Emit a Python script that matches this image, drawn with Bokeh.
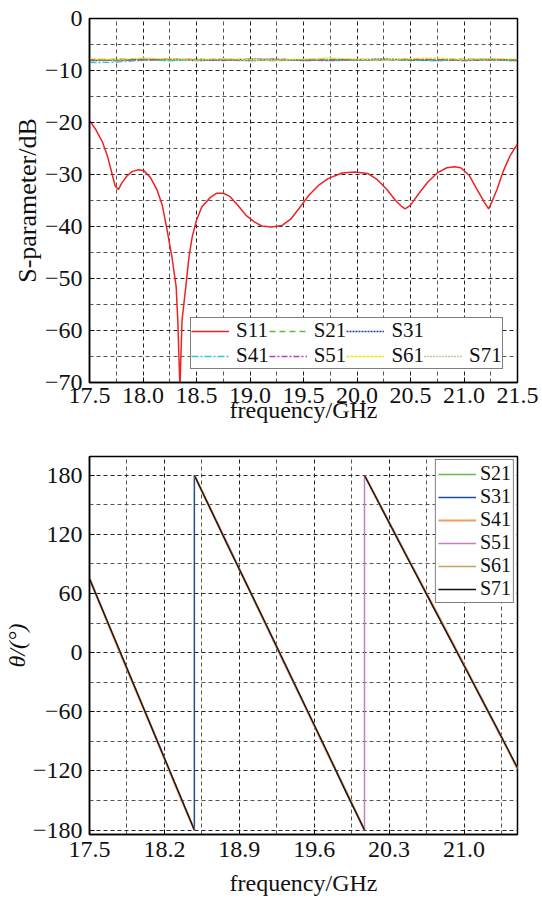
from bokeh.plotting import figure
from bokeh.layouts import column
from bokeh.models import (FixedTicker, CustomJSTickFormatter, Legend, LegendItem, Range1d)
from bokeh.embed import file_html
from bokeh.resources import INLINE

nan = float("nan")

# ---------------- data: top chart (magnitude) ----------------
f_s11 = [17.50, 17.56, 17.62, 17.67, 17.71, 17.74, 17.77, 17.80, 17.85, 17.90, 17.96,
         18.01, 18.07, 18.13, 18.18, 18.22, 18.27, 18.31, 18.325, 18.345, 18.365,
         18.40, 18.43, 18.46, 18.50, 18.55, 18.63, 18.69, 18.75, 18.81, 18.89, 18.96,
         19.04, 19.11, 19.20, 19.30, 19.38, 19.46, 19.55, 19.64, 19.73, 19.86, 19.98,
         20.10, 20.19, 20.28, 20.36, 20.42, 20.45, 20.50, 20.58, 20.66, 20.75, 20.84,
         20.91, 20.97, 21.05, 21.12, 21.19, 21.23, 21.26, 21.31, 21.37, 21.43, 21.50]
s11 = [-19.6, -21.4, -23.7, -26.6, -29.8, -32.2, -32.9, -31.7, -30.3, -29.4, -29.1,
       -29.3, -30.6, -32.9, -35.9, -40.1, -45.8, -51.6, -58.0, -71.0, -58.0,
       -51.6, -45.8, -42.0, -38.8, -36.2, -34.4, -33.6, -33.6, -34.2, -36.0, -37.8,
       -39.1, -39.9, -40.1, -39.8, -38.6, -36.5, -34.0, -32.1, -30.8, -29.7, -29.5,
       -29.8, -31.0, -32.9, -35.0, -36.2, -36.6, -35.9, -33.6, -31.5, -29.7, -28.7,
       -28.5, -28.7, -30.2, -32.8, -35.3, -36.6, -35.3, -32.8, -29.2, -26.4, -24.1]

f_trans = [17.50, 17.75, 18.00, 18.25, 18.50, 18.75, 19.00, 19.25, 19.50,
           19.75, 20.00, 20.25, 20.50, 20.75, 21.00, 21.25, 21.50]
s21 = [-8.0, -7.8, -7.9, -8.1, -7.9, -7.8, -8.0, -8.1, -7.9, -7.8, -8.0, -7.9, -8.1, -7.9, -7.8, -8.0, -8.1]
s31 = [-8.1, -8.0, -7.8, -7.9, -8.1, -8.0, -7.8, -7.9, -8.1, -8.0, -7.9, -7.8, -8.0, -8.1, -7.9, -7.8, -8.0]
s41 = [-8.5, -8.4, -8.0, -8.1, -8.0, -7.9, -8.1, -8.0, -7.9, -8.1, -8.0, -8.0, -7.9, -8.1, -8.0, -7.9, -8.2]
s51 = [-7.9, -8.1, -8.0, -7.8, -7.9, -8.1, -7.9, -7.8, -8.0, -8.1, -7.9, -8.0, -7.8, -7.9, -8.1, -8.0, -7.9]
s61 = [-7.7, -7.9, -7.6, -7.8, -8.0, -7.7, -7.9, -8.0, -7.8, -7.6, -7.8, -8.0, -7.7, -7.6, -7.9, -7.7, -7.8]
s71 = [-8.2, -8.0, -8.1, -7.9, -7.8, -8.0, -8.2, -7.9, -8.0, -7.9, -8.1, -7.8, -7.9, -8.0, -8.1, -7.9, -8.0]

mag_x_ticks = [17.5, 18.0, 18.5, 19.0, 19.5, 20.0, 20.5, 21.0, 21.5]
mag_x_minor = [17.75, 18.25, 18.75, 19.25, 19.75, 20.25, 20.75, 21.25]
mag_y_ticks = [0, -10, -20, -30, -40, -50, -60, -70]
mag_y_minor = [-5, -15, -25, -35, -45, -55, -65]

# ---------------- data: bottom chart (phase) ----------------
f_phase = [17.50, 17.80, 18.10, 18.30, 18.48, 18.48, 18.48, 18.80, 19.10, 19.40,
           19.70, 19.90, 20.07, 20.07, 20.07, 20.40, 20.70, 21.00, 21.30, 21.50]
p21 = [75, -3, -81, -133, -180, nan, 180, 107, 40, -28, -96, -141, -180, nan, 180, 111, 49, -13, -75, -117]
p31 = [75, -3, -81, -133, -180, -180, 180, 108, 39, -29, -96, -142, -180, nan, 180, 112, 49, -13, -76, -117]
p41 = [75, -4, -81, -134, -180, nan, 180, 107, 40, -28, -97, -141, -180, nan, 180, 111, 50, -12, -75, -118]
p51 = [76, -3, -80, -133, -180, nan, 180, 108, 39, -29, -96, -142, -180, -180, 180, 111, 49, -13, -75, -117]
p61 = [75, -3, -81, -133, -180, nan, 180, 107, 39, -28, -96, -141, -180, nan, 180, 111, 49, -13, -75, -117]
p71 = [75, -3, -81, -133, -180, nan, 180, 107, 40, -28, -96, -142, -180, nan, 180, 111, 49, -13, -75, -117]

ph_x_ticks = [17.5, 18.2, 18.9, 19.6, 20.3, 21.0]
ph_x_minor = [17.85, 18.55, 19.25, 19.95, 20.65, 21.35]
ph_y_ticks = [-180, -120, -60, 0, 60, 120, 180]
ph_y_minor = [-150, -90, -30, 30, 90, 150]

FONT = "Liberation Serif"
TICK_FS = "24px"
LABEL_FS = "24px"


def style(p, xt, xm, yt, ym, xfmt, yfmt):
    p.xaxis.ticker = FixedTicker(ticks=xt, minor_ticks=xm)
    p.yaxis.ticker = FixedTicker(ticks=yt, minor_ticks=ym)
    p.xaxis.formatter = CustomJSTickFormatter(code=xfmt)
    p.yaxis.formatter = CustomJSTickFormatter(code=yfmt)
    for ax in (p.xaxis, p.yaxis):
        ax.major_label_text_font = FONT
        ax.major_label_text_font_size = TICK_FS
        ax.major_label_text_color = "#111111"
        ax.axis_label_text_font = FONT
        ax.axis_label_text_font_size = LABEL_FS
        ax.axis_label_text_font_style = "normal"
        ax.axis_label_text_color = "#111111"
        ax.axis_line_color = "black"
        ax.axis_line_width = 1.5
        ax.major_tick_in = 5
        ax.major_tick_out = 0
        ax.minor_tick_line_color = None
        ax.major_label_standoff = 3
        ax.axis_label_standoff = 0
    for g in (p.xgrid, p.ygrid):
        g.grid_line_color = "#222222"
        g.grid_line_dash = "4 3"
        g.grid_line_width = 1
        g.minor_grid_line_color = "#555555"
        g.minor_grid_line_dash = "4 3"
        g.minor_grid_line_width = 1
    p.outline_line_color = "black"
    p.outline_line_width = 1.5
    p.background_fill_color = "white"
    p.border_fill_color = "white"


xfmt1 = "return tick.toFixed(1);"
yfmt_int = "return (tick < 0 ? '\\u2212' : '') + Math.abs(tick).toFixed(0);"

# ---------------- top figure ----------------
p1 = figure(width=542, height=430, output_backend="svg", toolbar_location=None,
            x_range=Range1d(17.5, 21.5), y_range=Range1d(-70, 0),
            min_border_left=87, min_border_right=25, min_border_top=18, min_border_bottom=48)
style(p1, mag_x_ticks, mag_x_minor, mag_y_ticks, mag_y_minor, xfmt1, yfmt_int)
p1.xaxis.axis_label = "frequency/GHz"
p1.yaxis.axis_label = "S-parameter/dB"
p1.yaxis.axis_label_text_font_size = "26px"
p1.xaxis.axis_label_standoff = -9
p1.xaxis.major_label_standoff = 1

specs1 = [
    ("S11", f_s11, s11, "#ee2222", "solid", 1.5),
    ("S21", f_trans, s21, "#66bb33", "6 4", 1.3),
    ("S31", f_trans, s31, "#1f3f9f", "2 1", 1.3),
    ("S41", f_trans, s41, "#33c8dd", "7 2 2 2", 1.3),
    ("S51", f_trans, s51, "#b040c0", "6 2 2 2", 1.3),
    ("S61", f_trans, s61, "#f2e600", "3 1", 1.3),
    ("S71", f_trans, s71, "#8f8f2f", "1 2", 1.3),
]
r1 = {}
for name, xs, ys, col, dash, lw in specs1:
    r1[name] = p1.line(xs, ys, line_color=col, line_dash=dash, line_width=lw)
blank = p1.line([17.5, 17.6], [-8, -8], line_alpha=0)

items1 = [LegendItem(label="S11", renderers=[r1["S11"]]),
          LegendItem(label="S21", renderers=[r1["S21"]]),
          LegendItem(label="S31", renderers=[r1["S31"]]),
          LegendItem(label=" ", renderers=[blank]),
          LegendItem(label="S41", renderers=[r1["S41"]]),
          LegendItem(label="S51", renderers=[r1["S51"]]),
          LegendItem(label="S61", renderers=[r1["S61"]]),
          LegendItem(label="S71", renderers=[r1["S71"]])]
leg1 = Legend(items=items1, orientation="horizontal", ncols=4, location=(101, 13),
              label_text_font=FONT, label_text_font_size="21px", label_text_color="#111111",
              label_height=14, glyph_width=38, glyph_height=14, label_standoff=7,
              spacing=0, padding=0, margin=0,
              border_line_color="black", border_line_width=1.5,
              background_fill_color="white", background_fill_alpha=1)
p1.add_layout(leg1, "center")

# ---------------- bottom figure ----------------
p2 = figure(width=542, height=468, output_backend="svg", toolbar_location=None,
            x_range=Range1d(17.5, 21.5), y_range=Range1d(-184.5, 199),
            min_border_left=88, min_border_right=25, min_border_top=26, min_border_bottom=64)
style(p2, ph_x_ticks, ph_x_minor, ph_y_ticks, ph_y_minor, xfmt1, yfmt_int)
p2.xaxis.axis_label = "frequency/GHz"
p2.yaxis.axis_label = "θ/(°)"
p2.yaxis.axis_label_text_font_style = "italic"
p2.xaxis.axis_label_standoff = 10

specs2 = [
    ("S21", p21, "#66bb44", 1.5),
    ("S31", p31, "#1f4e9a", 1.5),
    ("S41", p41, "#f59a5f", 2.2),
    ("S51", p51, "#c77cc7", 1.5),
    ("S61", p61, "#c9a25a", 1.5),
    ("S71", p71, "#111111", 1.3),
]
items2 = []
for name, ys, col, lw in specs2:
    r = p2.line(f_phase, ys, line_color=col, line_width=lw)
    items2.append(LegendItem(label=name, renderers=[r]))
leg2 = Legend(items=items2, location="top_right",
              label_text_font=FONT, label_text_font_size="20px", label_text_color="#111111",
              label_height=16, glyph_width=38, glyph_height=16, label_standoff=4,
              spacing=0, padding=2, margin=3,
              border_line_color="black", border_line_width=1.5,
              background_fill_color="white", background_fill_alpha=1)
p2.add_layout(leg2, "center")

layout = column(p1, p2, spacing=0)
open("out.html", "w").write(file_html(layout, INLINE))
